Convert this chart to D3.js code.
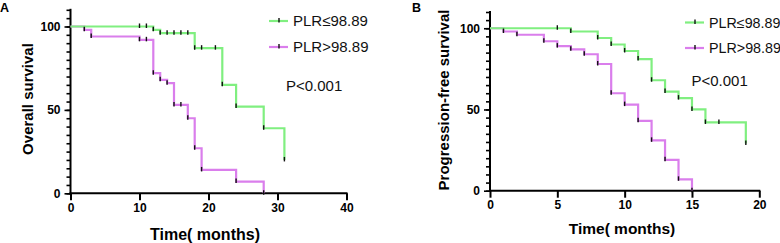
<!DOCTYPE html>
<html>
<head>
<meta charset="utf-8">
<script src="https://cdn.jsdelivr.net/npm/d3@7"></script>
<style>
  html, body { margin: 0; padding: 0; background: #fff; }
  svg { display: block; }
</style>
</head>
<body>
<svg id="chart" width="780" height="243"></svg>
<script>
// ---------- Data ----------
// Panel A: Overall survival
const aGreenTimes = [0, 12, 13, 18, 22, 24, 28, 31];
const aGreenSurv  = [100, 98, 96, 87, 65, 52, 39, 20];
const aGreenCensor = [10, 11, 12, 13, 14, 15, 16, 17, 18, 19, 21, 22, 24, 28, 31];

const aPurpleTimes = [0, 2, 3, 10, 12, 13, 14, 15, 17, 18, 19, 24, 28];
const aPurpleSurv  = [100, 98, 94, 92, 72, 68, 66, 53, 45, 27, 14, 7, 0];
const aPurpleCensor = [2, 3, 10, 11, 12, 13, 14, 15, 16, 17, 18, 19, 24, 28];

// Panel B: Progression-free survival
const bGreenTimes = [0, 6, 8, 9, 10, 11, 12, 13, 14, 15, 16, 19];
const bGreenSurv  = [100, 98, 94, 90, 86, 81, 68, 61, 57, 50, 42, 29];
const bGreenCensor = [5, 6, 8, 9, 10, 11, 12, 13, 14, 15, 16, 17, 19];

const bPurpleTimes = [0, 1, 2, 4, 5, 6, 7, 8, 9, 10, 11, 12, 13, 14, 15];
const bPurpleSurv  = [100, 98, 96, 92, 89, 87, 84, 78, 60, 53, 43, 31, 19, 7, 0];
const bPurpleCensor = [1, 2, 4, 5, 6, 7, 8, 9, 10, 11, 12, 13, 14, 15];

const seriesNames = ["PLR≤98.89", "PLR>98.89"];
const yTickLabels = [0, 50, 100];
const aXTicks = [0, 10, 20, 30, 40];
const bXTicks = [0, 5, 10, 15, 20];
const pText = "P<0.001";

// ---------- Styles ----------
const GREEN = "#80EF80";
const PURPLE = "#DA7EEC";

const svg = d3.select("#chart");

function stepValue(times, surv, t) {
  let v = surv[0];
  for (let i = 0; i < times.length; i++) { if (times[i] <= t) v = surv[i]; }
  return v;
}

function drawPanel(cfg) {
  const g = svg.append("g");
  const x = d3.scaleLinear().domain(cfg.xDomain).range(cfg.xRange);
  const y = d3.scaleLinear().domain([0, 110]).range([cfg.y0, cfg.y110]);

  // panel letter
  g.append("text").attr("x", cfg.letterX).attr("y", 12)
    .attr("font-family", "Liberation Sans, Arial, sans-serif")
    .attr("font-weight", "bold").attr("font-size", 12.5)
    .text(cfg.letter);

  // Y axis (minor ticks every 5, major labelled at 0/50/100)
  const yMinor = d3.range(0, 111, 5);
  const yAxisMinor = d3.axisLeft(y).tickValues(yMinor).tickSize(4).tickFormat("");
  const ya = g.append("g").attr("transform", `translate(${cfg.xRange[0]},0)`).call(yAxisMinor);
  ya.select(".domain").remove();
  ya.selectAll("line").attr("stroke", "#000").attr("stroke-width", 1.6);
  const yAxisMajor = d3.axisLeft(y).tickValues(yTickLabels).tickSize(6).tickPadding(4)
    .tickFormat(d3.format("d"));
  const yb = g.append("g").attr("transform", `translate(${cfg.xRange[0]},0)`).call(yAxisMajor);
  yb.select(".domain").remove();
  yb.selectAll("line").attr("stroke", "#000").attr("stroke-width", 1.6);
  yb.selectAll("text").attr("font-family", "Liberation Sans, Arial, sans-serif")
    .attr("font-weight", "bold").attr("font-size", 12).attr("fill", "#000");
  g.append("line").attr("x1", cfg.xRange[0]).attr("x2", cfg.xRange[0])
    .attr("y1", y(110) - 1).attr("y2", y(0) + 1)
    .attr("stroke", "#000").attr("stroke-width", 2);

  // X axis
  const xAxis = d3.axisBottom(x).tickValues(cfg.xTicks).tickSize(7).tickPadding(3)
    .tickFormat(d3.format("d"));
  const xa = g.append("g").attr("transform", `translate(0,${cfg.y0})`).call(xAxis);
  xa.select(".domain").remove();
  xa.selectAll("line").attr("stroke", "#000").attr("stroke-width", 2);
  xa.selectAll("text").attr("font-family", "Liberation Sans, Arial, sans-serif")
    .attr("font-weight", "bold").attr("font-size", 12).attr("fill", "#000");
  g.append("line").attr("x1", cfg.xRange[0] - 1).attr("x2", cfg.xRange[1] + 1)
    .attr("y1", cfg.y0).attr("y2", cfg.y0)
    .attr("stroke", "#000").attr("stroke-width", 2);

  // Axis titles
  g.append("text")
    .attr("transform", `translate(${cfg.yLabelX},${cfg.yLabelY}) rotate(-90)`)
    .attr("text-anchor", "middle")
    .attr("font-family", "Liberation Sans, Arial, sans-serif")
    .attr("font-weight", "bold").attr("font-size", 15)
    .text(cfg.yLabel);
  g.append("text")
    .attr("x", cfg.xLabelX).attr("y", cfg.xLabelY)
    .attr("text-anchor", "middle")
    .attr("font-family", "Liberation Sans, Arial, sans-serif")
    .attr("font-weight", "bold").attr("font-size", cfg.xLabelSize)
    .attr("xml:space", "preserve")
    .text("Time( months)");

  // Curves
  const line = d3.line().x(d => x(d[0])).y(d => y(d[1])).curve(d3.curveStepAfter);
  cfg.series.slice().reverse().forEach(s => {
    const pts = s.times.map((t, i) => [t, s.surv[i]]);
    g.append("path").attr("d", line(pts)).attr("fill", "none")
      .attr("stroke", s.color).attr("stroke-width", 2.2);
  });
  cfg.series.forEach(s => {
    g.selectAll(null).data(s.censor).enter().append("line")
      .attr("x1", d => x(d)).attr("x2", d => x(d))
      .attr("y1", d => y(stepValue(s.times, s.surv, d)) - 3)
      .attr("y2", d => y(stepValue(s.times, s.surv, d)) + 1.5)
      .attr("stroke", "#111").attr("stroke-width", 1.4);
  });

  // Legend
  cfg.series.forEach((s, i) => {
    const ly = cfg.legendY[i];
    g.append("line").attr("x1", cfg.legendX).attr("x2", cfg.legendX + 19)
      .attr("y1", ly).attr("y2", ly).attr("stroke", s.color).attr("stroke-width", 2.2);
    g.append("line").attr("x1", cfg.legendX + 10).attr("x2", cfg.legendX + 10)
      .attr("y1", ly - 3).attr("y2", ly + 1.5).attr("stroke", "#111").attr("stroke-width", 1.4);
    g.append("text").attr("x", cfg.legendX + 24).attr("y", ly + 5)
      .attr("font-family", "Liberation Sans, Arial, sans-serif")
      .attr("font-size", cfg.legendSize).attr("fill", "#111")
      .text(seriesNames[i]);
  });
  g.append("text").attr("x", cfg.pX).attr("y", cfg.pY)
    .attr("font-family", "Liberation Sans, Arial, sans-serif")
    .attr("font-size", 15).attr("fill", "#111").text(pText);
}

drawPanel({
  letter: "A", letterX: 0,
  xDomain: [0, 40], xRange: [70.5, 346.5], xTicks: aXTicks,
  y0: 193.3, y110: 9.8,
  yLabel: "Overall survival", yLabelX: 33, yLabelY: 99,
  xLabelX: 205, xLabelY: 240, xLabelSize: 16,
  series: [
    { times: aGreenTimes, surv: aGreenSurv, censor: aGreenCensor, color: GREEN },
    { times: aPurpleTimes, surv: aPurpleSurv, censor: aPurpleCensor, color: PURPLE }
  ],
  legendX: 269, legendY: [21, 47], legendSize: 15,
  pX: 286, pY: 91
});

drawPanel({
  letter: "B", letterX: 412,
  xDomain: [0, 20], xRange: [490, 759.3], xTicks: bXTicks,
  y0: 190.7, y110: 12,
  yLabel: "Progression-free survival", yLabelX: 449, yLabelY: 100,
  xLabelX: 622, xLabelY: 234, xLabelSize: 15.5,
  series: [
    { times: bGreenTimes, surv: bGreenSurv, censor: bGreenCensor, color: GREEN },
    { times: bPurpleTimes, surv: bPurpleSurv, censor: bPurpleCensor, color: PURPLE }
  ],
  legendX: 685, legendY: [22.5, 48], legendSize: 14.3,
  pX: 691.5, pY: 86
});
</script>
</body>
</html>
